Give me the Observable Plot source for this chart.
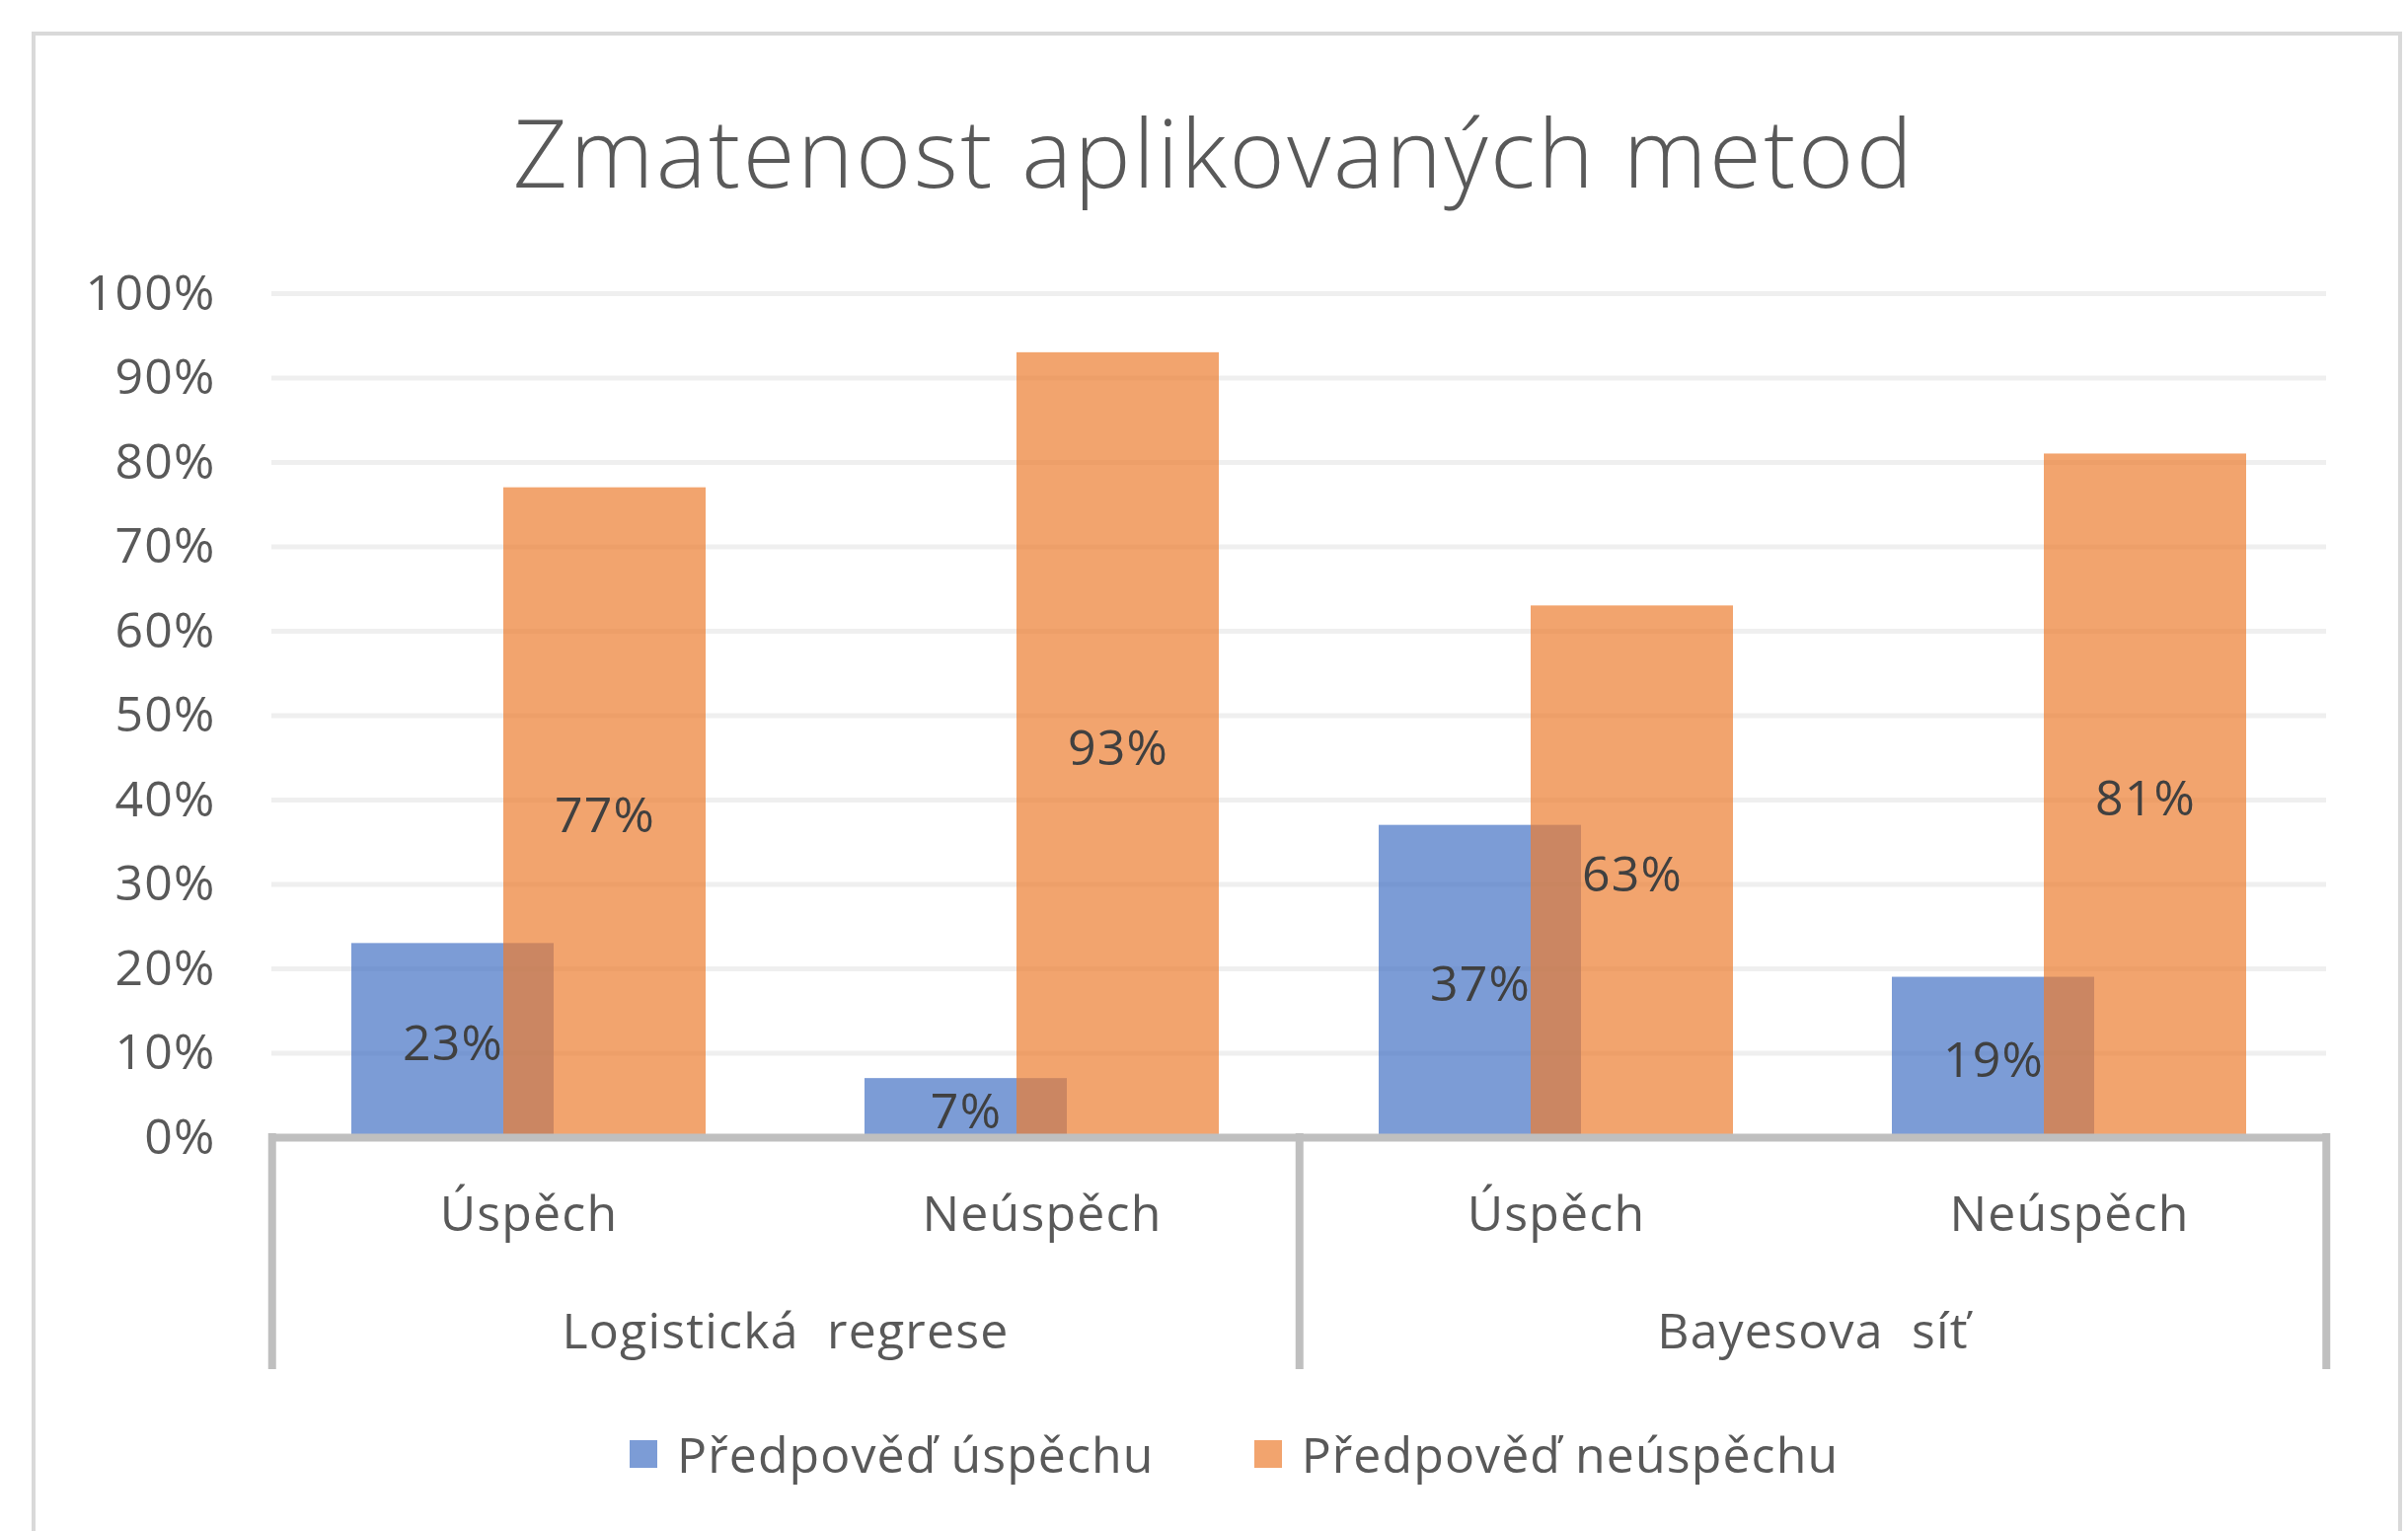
<!DOCTYPE html>
<html><head><meta charset="utf-8">
<script src="https://cdn.jsdelivr.net/npm/d3@7"></script>
<script src="https://cdn.jsdelivr.net/npm/@observablehq/plot@0.6"></script>
<style>
body{margin:0;background:#fff;font-family:"Open Sans",sans-serif;}
#page{position:relative;width:2440px;height:1551px;overflow:hidden;background:#fff;}
#border{position:absolute;left:32px;top:32px;width:2402px;height:1600px;border:4px solid #d9d9d9;box-sizing:border-box;pointer-events:none;}
#title{height:250px;box-sizing:border-box;padding-top:105px;line-height:96px;font-size:96px;font-weight:300;color:#595959;text-align:center;padding-left:20px;white-space:nowrap;letter-spacing:2.5px;}
#chart svg{display:block;overflow:visible;}
#chart svg text{letter-spacing:1.2px;white-space:pre;}
#legend{height:146px;display:flex;align-items:center;padding-left:638px;font-size:50px;color:#595959;white-space:nowrap;letter-spacing:1.1px;}
.sw{width:28px;height:28px;margin-right:20px;flex:none;}
.item{display:flex;align-items:center;margin-right:101px;}
</style>
</head><body>
<div id="page">
  <div id="border"></div>
  <div id="title"></div>
  <div id="chart"></div>
  <div id="legend"></div>
</div>
<script>
const titleText = "Zmatenost aplikovaných metod";
const groups = ["Logistická  regrese", "Bayesova  síť"];
const outcomes = ["Úspěch", "Neúspěch"];
const seriesNames = ["Předpověď úspěchu", "Předpověď neúspěchu"];
const seriesColors = ["#4472C4", "#ED7D31"];
const successValues = [23, 7, 37, 19];
const failureValues = [77, 93, 63, 81];
const yTicks = [0, 10, 20, 30, 40, 50, 60, 70, 80, 90, 100];

const rows = groups.flatMap((g, i) => outcomes.map((o, j) => ({
  group: g, outcome: o,
  blue: successValues[i * 2 + j],
  orange: failureValues[i * 2 + j]
})));

document.getElementById("title").textContent = titleText;

const W = 2440, H = 1150, mL = 275, mR = 83, mT = 47, mB = 248;
const step = (W - mL - mR) / (groups.length * outcomes.length);
const band = 205;
const pIn = 1 - band / step;
const off = 77;
const frameH = H - mT - mB;
const axisGray = "#BFBFBF";

const chart = Plot.plot({
  width: W, height: H,
  marginTop: mT, marginBottom: mB, marginLeft: mL, marginRight: mR,
  style: {fontFamily: "Open Sans", fontSize: "50px", color: "#595959", background: "transparent", overflow: "visible"},
  fx: {domain: groups, padding: 0, axis: null, label: null},
  x: {domain: outcomes, paddingInner: pIn, paddingOuter: pIn / 2, axis: null},
  y: {domain: [0, 100], axis: null},
  marks: [
    Plot.ruleY(yTicks.filter(t => t > 0), {stroke: "#EFEFEF", strokeWidth: 5}),
    Plot.axisY(yTicks, {tickFormat: d => d + "%", tickSize: 0, tickPadding: 57, label: null, fontSize: 50, fill: "#595959"}),
    Plot.barY(rows, {fx: "group", x: "outcome", y: "blue", dx: -off, fill: seriesColors[0], fillOpacity: 0.7}),
    Plot.barY(rows, {fx: "group", x: "outcome", y: "orange", dx: off, fill: seriesColors[1], fillOpacity: 0.7}),
    Plot.text(rows, {fx: "group", x: "outcome", y: d => d.blue / 2, text: d => d.blue + "%", dx: -off, dy: 4, fill: "#404040", fontSize: 50}),
    Plot.text(rows, {fx: "group", x: "outcome", y: d => d.orange / 2, text: d => d.orange + "%", dx: off, dy: 4, fill: "#404040", fontSize: 50}),
    Plot.ruleY([0], {stroke: axisGray, strokeWidth: 8}),
    Plot.ruleX(groups, {fx: d => d, x: () => outcomes[0], dx: -step / 2, insetTop: frameH - 4, insetBottom: -235, stroke: axisGray, strokeWidth: 8}),
    Plot.ruleX([groups[groups.length - 1]], {fx: d => d, x: () => outcomes[outcomes.length - 1], dx: step / 2, insetTop: frameH - 4, insetBottom: -235, stroke: axisGray, strokeWidth: 8}),
    Plot.text(rows, {fx: "group", x: "outcome", text: "outcome", frameAnchor: "bottom", dy: 94, fill: "#595959", fontSize: 50}),
    Plot.text(groups, {fx: d => d, text: d => d, frameAnchor: "bottom", dy: 213, fill: "#595959", fontSize: 50})
  ]
});
document.getElementById("chart").appendChild(chart);

const legend = document.getElementById("legend");
seriesNames.forEach((name, i) => {
  const item = document.createElement("div");
  item.className = "item";
  const sw = document.createElement("div");
  sw.className = "sw";
  sw.style.background = seriesColors[i];
  sw.style.opacity = 0.7;
  const t = document.createElement("span");
  t.textContent = name;
  item.appendChild(sw); item.appendChild(t);
  legend.appendChild(item);
});
</script>
</body></html>
